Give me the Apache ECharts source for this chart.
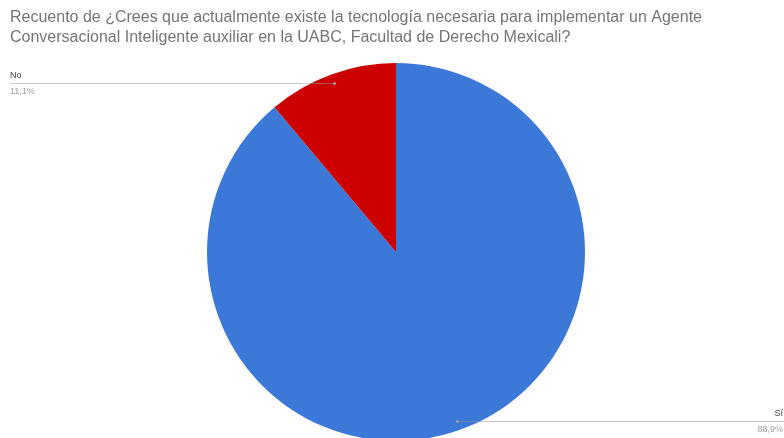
<!DOCTYPE html>
<html>
<head>
<meta charset="utf-8">
<script src="https://cdn.jsdelivr.net/npm/echarts@6/dist/echarts.min.js"></script>
<style>
  html, body { margin: 0; padding: 0; background: #fff; }
  #chart { width: 784px; height: 438px; }
</style>
</head>
<body>
<div id="chart"></div>
<script>
// Survey answers and their counts
const categories = ['Sí', 'No'];
const counts = [8, 1];
const sliceColors = ['#3c78d8', '#cc0000'];
const chartTitle = 'Recuento de ¿Crees que actualmente existe la tecnología necesaria para implementar un Agente\nConversacional Inteligente auxiliar en la UABC, Facultad de Derecho Mexicali?';

const total = counts.reduce((a, b) => a + b, 0);
const pieCenter = [396, 252];
const pieRadius = 189;
const startAngle = 90;
const chartWidth = 784;

// Mid-angle anchor of each slice (clockwise from the top), placed near the rim
function anchorFor(idx) {
  let before = 0;
  for (let i = 0; i < idx; i++) before += counts[i];
  const mid = startAngle - ((before + counts[idx] / 2) / total) * 360;
  const rad = mid * Math.PI / 180;
  const r = pieRadius * 0.95;
  return [pieCenter[0] + r * Math.cos(rad), pieCenter[1] - r * Math.sin(rad)];
}

function edgeFor(idx) {
  return anchorFor(idx)[0] < pieCenter[0] ? 10 : chartWidth;
}

const chart = echarts.init(document.getElementById('chart'), null, { renderer: 'canvas' });

// Leader lines drawn over the slices, each ending in a small grey dot
const leaders = [];
categories.forEach((c, i) => {
  const a = anchorFor(i);
  leaders.push({
    type: 'line',
    z: 100,
    shape: { x1: a[0], y1: Math.round(a[1]) + 0.5, x2: edgeFor(i), y2: Math.round(a[1]) + 0.5 },
    style: { stroke: 'rgba(150,150,150,0.5)', lineWidth: 1 },
    silent: true
  });
  leaders.push({
    type: 'circle',
    z: 101,
    shape: { cx: a[0], cy: Math.round(a[1]) + 0.5, r: 1.6 },
    style: { fill: '#9a9a9a' },
    silent: true
  });
});

chart.setOption({
  animation: false,
  backgroundColor: '#ffffff',
  title: {
    text: chartTitle,
    left: 5,
    top: 3,
    textStyle: {
      fontFamily: 'Liberation Sans, Arial, sans-serif',
      fontSize: 16,
      fontWeight: 'normal',
      color: '#757575',
      lineHeight: 20
    }
  },
  graphic: leaders,
  series: [{
    type: 'pie',
    center: pieCenter,
    radius: pieRadius,
    startAngle: startAngle,
    clockwise: true,
    data: categories.map((c, i) => ({
      name: c,
      value: counts[i],
      itemStyle: { color: sliceColors[i] }
    })),
    itemStyle: { borderWidth: 0 },
    emphasis: { disabled: true },
    label: {
      show: true,
      formatter: p => '{n|' + p.name + '}\n{p|' + (p.value / total * 100).toFixed(1).replace('.', ',') + '%}',
      rich: {
        n: { fontFamily: 'Liberation Sans, Arial, sans-serif', fontSize: 9, color: '#444444', lineHeight: 16 },
        p: { fontFamily: 'Liberation Sans, Arial, sans-serif', fontSize: 9, color: '#9e9e9e', lineHeight: 16 }
      }
    },
    labelLine: { show: false },
    labelLayout: function (params) {
      const a = anchorFor(params.dataIndex);
      const onLeft = a[0] < pieCenter[0];
      return {
        x: onLeft ? 10 : chartWidth - 1,
        y: Math.round(a[1]) + 0.5,
        align: onLeft ? 'left' : 'right',
        verticalAlign: 'middle'
      };
    }
  }]
});
</script>
</body>
</html>
